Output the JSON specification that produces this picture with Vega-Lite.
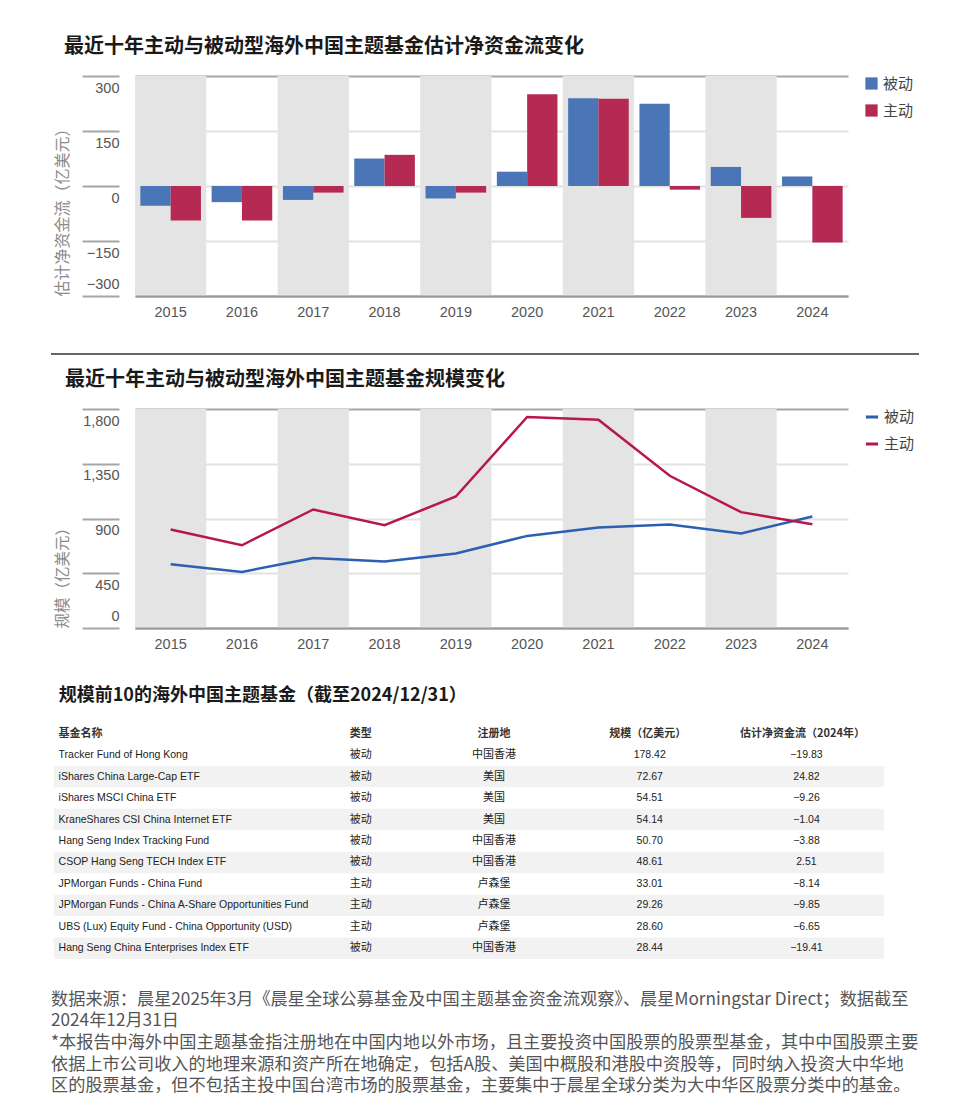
{
  "$schema": "https://vega.github.io/schema/vega-lite/v6.json",
  "background": "white",
  "padding": {"left": 50, "top": 37, "right": 10, "bottom": 10},
  "config": {
    "view": {"stroke": null},
    "font": "Noto Sans CJK SC",
    "title": {"font": "Noto Sans CJK SC", "fontSize": 20, "fontWeight": "bold", "color": "#1a1a1a", "anchor": "start", "frame": "bounds"}
  },
  "datasets": {
    "flows": [
      {"year": "2015", "type": "被动", "value": -54}, {"year": "2015", "type": "主动", "value": -94},
      {"year": "2016", "type": "被动", "value": -44}, {"year": "2016", "type": "主动", "value": -94},
      {"year": "2017", "type": "被动", "value": -38}, {"year": "2017", "type": "主动", "value": -18},
      {"year": "2018", "type": "被动", "value": 75}, {"year": "2018", "type": "主动", "value": 85},
      {"year": "2019", "type": "被动", "value": -34}, {"year": "2019", "type": "主动", "value": -18},
      {"year": "2020", "type": "被动", "value": 39}, {"year": "2020", "type": "主动", "value": 250},
      {"year": "2021", "type": "被动", "value": 239}, {"year": "2021", "type": "主动", "value": 238},
      {"year": "2022", "type": "被动", "value": 224}, {"year": "2022", "type": "主动", "value": -10},
      {"year": "2023", "type": "被动", "value": 52}, {"year": "2023", "type": "主动", "value": -87},
      {"year": "2024", "type": "被动", "value": 26}, {"year": "2024", "type": "主动", "value": -154}
    ],
    "aum": [
      {"year": "2015", "type": "被动", "value": 524}, {"year": "2015", "type": "主动", "value": 809},
      {"year": "2016", "type": "被动", "value": 461}, {"year": "2016", "type": "主动", "value": 680},
      {"year": "2017", "type": "被动", "value": 576}, {"year": "2017", "type": "主动", "value": 974},
      {"year": "2018", "type": "被动", "value": 546}, {"year": "2018", "type": "主动", "value": 845},
      {"year": "2019", "type": "被动", "value": 612}, {"year": "2019", "type": "主动", "value": 1081},
      {"year": "2020", "type": "被动", "value": 757}, {"year": "2020", "type": "主动", "value": 1734},
      {"year": "2021", "type": "被动", "value": 826}, {"year": "2021", "type": "主动", "value": 1712},
      {"year": "2022", "type": "被动", "value": 851}, {"year": "2022", "type": "主动", "value": 1251},
      {"year": "2023", "type": "被动", "value": 777}, {"year": "2023", "type": "主动", "value": 952},
      {"year": "2024", "type": "被动", "value": 917}, {"year": "2024", "type": "主动", "value": 853}
    ],
    "bands": [{"year": "2015"}, {"year": "2017"}, {"year": "2019"}, {"year": "2021"}, {"year": "2023"}],
    "header": [{"rank": 0, "name": "基金名称", "type": "类型", "dom": "注册地", "size": "规模（亿美元）", "flow": "估计净资金流（2024年）"}],
    "funds": [
      {"rank": 1, "name": "Tracker Fund of Hong Kong", "type": "被动", "dom": "中国香港", "size": 178.42, "flow": -19.83},
      {"rank": 2, "name": "iShares China Large-Cap ETF", "type": "被动", "dom": "美国", "size": 72.67, "flow": 24.82},
      {"rank": 3, "name": "iShares MSCI China ETF", "type": "被动", "dom": "美国", "size": 54.51, "flow": -9.26},
      {"rank": 4, "name": "KraneShares CSI China Internet ETF", "type": "被动", "dom": "美国", "size": 54.14, "flow": -1.04},
      {"rank": 5, "name": "Hang Seng Index Tracking Fund", "type": "被动", "dom": "中国香港", "size": 50.70, "flow": -3.88},
      {"rank": 6, "name": "CSOP Hang Seng TECH Index ETF", "type": "被动", "dom": "中国香港", "size": 48.61, "flow": 2.51},
      {"rank": 7, "name": "JPMorgan Funds - China Fund", "type": "主动", "dom": "卢森堡", "size": 33.01, "flow": -8.14},
      {"rank": 8, "name": "JPMorgan Funds - China A-Share Opportunities Fund", "type": "主动", "dom": "卢森堡", "size": 29.26, "flow": -9.85},
      {"rank": 9, "name": "UBS (Lux) Equity Fund - China Opportunity (USD)", "type": "主动", "dom": "卢森堡", "size": 28.60, "flow": -6.65},
      {"rank": 10, "name": "Hang Seng China Enterprises Index ETF", "type": "被动", "dom": "中国香港", "size": 28.44, "flow": -19.41}
    ],
    "notes": [
      {"line": 1, "text": "数据来源：晨星2025年3月《晨星全球公募基金及中国主题基金资金流观察》、晨星Morningstar Direct；数据截至"},
      {"line": 2, "text": "2024年12月31日"},
      {"line": 3, "text": "*本报告中海外中国主题基金指注册地在中国内地以外市场，且主要投资中国股票的股票型基金，其中中国股票主要"},
      {"line": 4, "text": "依据上市公司收入的地理来源和资产所在地确定，包括A股、美国中概股和港股中资股等，同时纳入投资大中华地"},
      {"line": 5, "text": "区的股票基金，但不包括主投中国台湾市场的股票基金，主要集中于晨星全球分类为大中华区股票分类中的基金。"}
    ]
  },
  "columns": 1,
  "spacing": 30,
  "resolve": {"scale": {"color": "independent"}, "legend": {"color": "independent"}},
  "concat": [
    {
      "columns": 1,
      "spacing": 36,
      "resolve": {"scale": {"color": "independent"}, "legend": {"color": "independent"}},
      "concat": [
        {
          "columns": 1,
          "spacing": 15,
          "resolve": {"scale": {"color": "independent"}, "legend": {"color": "independent"}},
          "concat": [
            {
              "width": 713,
              "height": 220,
              "title": {"text": "最近十年主动与被动型海外中国主题基金估计净资金流变化", "offset": 18, "dx": 10},
              "encoding": {
                "x": {
                  "field": "year", "type": "nominal",
                  "scale": {"domain": ["2015","2016","2017","2018","2019","2020","2021","2022","2023","2024"], "paddingInner": 0, "paddingOuter": 0},
                  "axis": {"title": null, "ticks": false, "domain": true, "domainColor": "#9a9a9a", "domainWidth": 2, "labelPadding": 9, "labelFont": "Liberation Sans", "labelFontSize": 14.5, "labelColor": "#555", "labelAngle": 0}
                }
              },
              "layer": [
                {"data": {"name": "bands"}, "mark": {"type": "rect", "color": "#e4e4e4"}},
                {
                  "data": {"name": "flows"},
                  "mark": {"type": "bar"},
                  "encoding": {
                    "xOffset": {"field": "type", "type": "nominal", "scale": {"domain": ["被动", "主动"], "paddingInner": 0, "paddingOuter": 0.176}},
                    "y": {
                      "field": "value", "type": "quantitative",
                      "scale": {"domain": [-300, 300], "nice": false},
                      "axis": {
                        "values": [-300, -150, 0, 150, 300], "format": ",d",
                        "title": "估计净资金流（亿美元）", "titleFont": "Noto Sans CJK SC", "titleFontSize": 16, "titleFontWeight": "normal", "titleColor": "#8a8a8a", "titleAnchor": "start", "titlePadding": 11,
                        "offset": 16, "domain": false, "ticks": true, "tickSize": 37, "tickColor": "#a6a6a6", "tickWidth": 2,
                        "labelPadding": -37, "labelAlign": "right", "labelFont": "Liberation Sans", "labelFontSize": 14.5, "labelColor": "#555",
                        "labelBaseline": {"condition": {"test": "datum.value == -300", "value": "bottom"}, "value": "top"},
                        "labelOffset": {"condition": {"test": "datum.value == -300", "value": -5}, "value": 5},
                        "grid": true,
                        "gridColor": {"condition": {"test": "abs(datum.value) == 300", "value": "#a6a6a6"}, "value": "#e2e2e2"},
                        "gridWidth": 2
                      }
                    },
                    "color": {
                      "field": "type", "type": "nominal",
                      "scale": {"domain": ["被动", "主动"], "range": ["#4a76b8", "#b52a52"]},
                      "legend": {"title": null, "orient": "right", "offset": 16, "symbolType": "square", "symbolSize": 150, "labelFontSize": 15, "labelFont": "Noto Sans CJK SC", "labelColor": "#444", "rowPadding": 11, "padding": 0, "symbolStrokeWidth": 0}
                    }
                  }
                }
              ]
            },
            {
              "width": 784,
              "height": 20,
              "data": {"values": [{"v": 0}]},
              "mark": {"type": "rule", "color": "#333", "strokeWidth": 1.5},
              "encoding": {
                "x": {"datum": -84, "type": "quantitative", "scale": {"domain": [0, 784]}, "axis": null},
                "x2": {"datum": 784},
                "y": {"field": "v", "type": "quantitative", "scale": {"domain": [0, 1]}, "axis": null}
              }
            },
            {
              "width": 713,
              "height": 219,
              "title": {"text": "最近十年主动与被动型海外中国主题基金规模变化", "offset": 18, "dx": 10},
              "encoding": {
                "x": {
                  "field": "year", "type": "nominal",
                  "scale": {"domain": ["2015","2016","2017","2018","2019","2020","2021","2022","2023","2024"], "paddingInner": 0, "paddingOuter": 0},
                  "axis": {"title": null, "ticks": false, "domain": true, "domainColor": "#9a9a9a", "domainWidth": 2, "labelPadding": 9, "labelFont": "Liberation Sans", "labelFontSize": 14.5, "labelColor": "#555", "labelAngle": 0}
                }
              },
              "layer": [
                {"data": {"name": "bands"}, "mark": {"type": "rect", "color": "#e4e4e4"}},
                {
                  "data": {"name": "aum"},
                  "mark": {"type": "line", "strokeWidth": 2.5},
                  "encoding": {
                    "y": {
                      "field": "value", "type": "quantitative",
                      "scale": {"domain": [0, 1800], "nice": false},
                      "axis": {
                        "values": [0, 450, 900, 1350, 1800], "format": ",d",
                        "title": "规模（亿美元）", "titleFont": "Noto Sans CJK SC", "titleFontSize": 15.5, "titleFontWeight": "normal", "titleColor": "#8a8a8a", "titleAnchor": "start", "titlePadding": 11,
                        "offset": 16, "domain": false, "ticks": true, "tickSize": 37, "tickColor": "#a6a6a6", "tickWidth": 2,
                        "labelPadding": -37, "labelAlign": "right", "labelFont": "Liberation Sans", "labelFontSize": 14.5, "labelColor": "#555",
                        "labelBaseline": {"condition": {"test": "datum.value == 0", "value": "bottom"}, "value": "top"},
                        "labelOffset": {"condition": {"test": "datum.value == 0", "value": -5}, "value": 5},
                        "grid": true,
                        "gridColor": {"condition": {"test": "datum.value == 0 || datum.value == 1800", "value": "#a6a6a6"}, "value": "#e2e2e2"},
                        "gridWidth": 2
                      }
                    },
                    "color": {
                      "field": "type", "type": "nominal",
                      "scale": {"domain": ["被动", "主动"], "range": ["#2c5fb0", "#b8174a"]},
                      "legend": {"title": null, "orient": "right", "offset": 16, "symbolType": "stroke", "symbolSize": 150, "symbolStrokeWidth": 3, "labelFontSize": 15, "labelFont": "Noto Sans CJK SC", "labelColor": "#444", "rowPadding": 11, "padding": 0}
                    }
                  }
                }
              ]
            }
          ]
        },
        {
          "width": 774,
          "height": 236,
          "title": {"text": "规模前10的海外中国主题基金（截至2024/12/31）", "fontSize": 18, "offset": 18, "dx": 5},
          "encoding": {
            "y": {"field": "rank", "type": "ordinal", "scale": {"domain": [0,1,2,3,4,5,6,7,8,9,10], "paddingInner": 0, "paddingOuter": 0}, "axis": null}
          },
          "layer": [
            {"data": {"name": "funds"}, "transform": [{"filter": "datum.rank % 2 == 0"}], "mark": {"type": "rect", "color": "#f2f2f2"},
             "encoding": {"x": {"datum": -84, "type": "quantitative", "scale": {"domain": [0, 774]}, "axis": null}, "x2": {"datum": 774}}},
            {"data": {"name": "header"}, "mark": {"type": "text", "align": "left", "baseline": "middle", "fontSize": 11, "fontWeight": "bold", "color": "#333", "font": "Noto Sans CJK SC"},
             "encoding": {"x": {"datum": -79, "type": "quantitative"}, "text": {"field": "name"}}},
            {"data": {"name": "header"}, "mark": {"type": "text", "align": "left", "baseline": "middle", "fontSize": 11, "fontWeight": "bold", "color": "#333", "font": "Noto Sans CJK SC"},
             "encoding": {"x": {"datum": 222, "type": "quantitative"}, "text": {"field": "type"}}},
            {"data": {"name": "header"}, "mark": {"type": "text", "align": "center", "baseline": "middle", "fontSize": 11, "fontWeight": "bold", "color": "#333", "font": "Noto Sans CJK SC"},
             "encoding": {"x": {"datum": 371, "type": "quantitative"}, "text": {"field": "dom"}}},
            {"data": {"name": "header"}, "mark": {"type": "text", "align": "center", "baseline": "middle", "fontSize": 11, "fontWeight": "bold", "color": "#333", "font": "Noto Sans CJK SC"},
             "encoding": {"x": {"datum": 530, "type": "quantitative"}, "text": {"field": "size"}}},
            {"data": {"name": "header"}, "mark": {"type": "text", "align": "center", "baseline": "middle", "fontSize": 11, "fontWeight": "bold", "color": "#333", "font": "Noto Sans CJK SC"},
             "encoding": {"x": {"datum": 690, "type": "quantitative"}, "text": {"field": "flow"}}},
            {"data": {"name": "funds"}, "mark": {"type": "text", "align": "left", "baseline": "middle", "fontSize": 10.5, "color": "#222", "font": "Liberation Sans"},
             "encoding": {"x": {"datum": -79, "type": "quantitative"}, "text": {"field": "name"}}},
            {"data": {"name": "funds"}, "mark": {"type": "text", "align": "left", "baseline": "middle", "fontSize": 11, "color": "#222", "font": "Noto Sans CJK SC"},
             "encoding": {"x": {"datum": 222, "type": "quantitative"}, "text": {"field": "type"}}},
            {"data": {"name": "funds"}, "mark": {"type": "text", "align": "center", "baseline": "middle", "fontSize": 11, "color": "#222", "font": "Noto Sans CJK SC"},
             "encoding": {"x": {"datum": 371, "type": "quantitative"}, "text": {"field": "dom"}}},
            {"data": {"name": "funds"}, "mark": {"type": "text", "align": "center", "baseline": "middle", "fontSize": 10.5, "color": "#222", "font": "Liberation Sans"},
             "encoding": {"x": {"datum": 532, "type": "quantitative"}, "text": {"field": "size", "type": "quantitative", "format": ".2f"}}},
            {"data": {"name": "funds"}, "mark": {"type": "text", "align": "center", "baseline": "middle", "fontSize": 10.5, "color": "#222", "font": "Liberation Sans"},
             "encoding": {"x": {"datum": 694, "type": "quantitative"}, "text": {"field": "flow", "type": "quantitative", "format": ".2f"}}}
          ]
        }
      ]
    },
    {
      "width": 774,
      "height": 108,
      "data": {"name": "notes"},
      "mark": {"type": "text", "align": "left", "baseline": "middle", "fontSize": 17.2, "color": "#555", "font": "Noto Sans CJK SC"},
      "encoding": {
        "x": {"datum": -84, "type": "quantitative", "scale": {"domain": [0, 774]}, "axis": null},
        "y": {"field": "line", "type": "ordinal", "scale": {"paddingInner": 0, "paddingOuter": 0}, "axis": null},
        "text": {"field": "text"}
      }
    }
  ]
}
